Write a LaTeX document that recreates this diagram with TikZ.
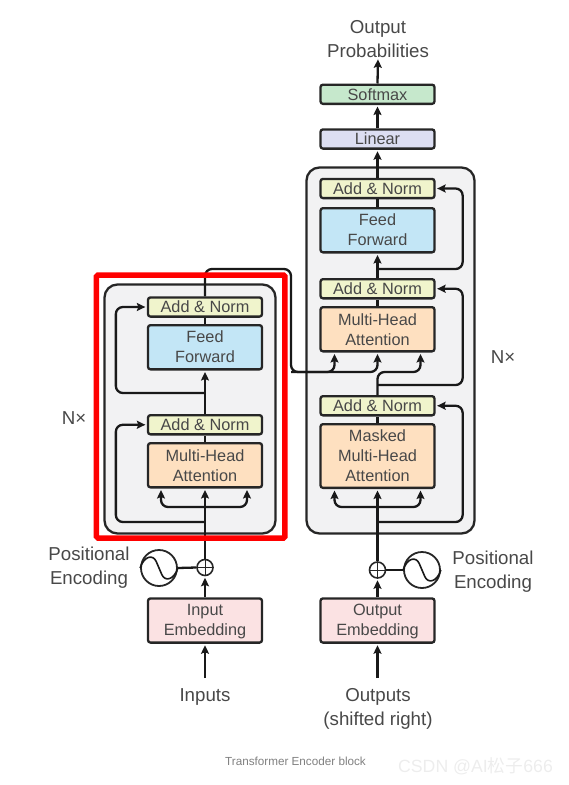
\documentclass[tikz,border=0pt]{standalone}
\usepackage{fontspec}
\setmainfont{Liberation Sans}
\newfontfamily\cjkfont{Noto Sans CJK SC}
\usetikzlibrary{arrows.meta, positioning, calc}
\definecolor{InkGray}{RGB}{72, 72, 72}
\definecolor{StackGray}{RGB}{242, 242, 243}
\definecolor{NormGreen}{RGB}{240, 244, 204}
\definecolor{FeedBlue}{RGB}{195, 230, 246}
\definecolor{AttnOrange}{RGB}{254, 224, 192}
\definecolor{EmbedPink}{RGB}{251, 226, 227}
\definecolor{SoftGreen}{RGB}{198, 232, 204}
\definecolor{LinearBlue}{RGB}{220, 222, 242}
\newcommand{\sinewave}[1]{\draw[wire, line width=1.6pt] (#1.west) .. controls +(4,-12) and +(-6,-14) .. (#1.center) .. controls +(6,14) and +(-4,12) .. (#1.east);}

\begin{document}
\begin{tikzpicture}[
    x=1pt, y=-1pt,
    wire/.style={line width=2.3pt, color=black!90, rounded corners=7pt},
    arrow/.style={wire, -{Stealth[length=8.5pt, width=8pt, inset=1.5pt]}, shorten >=1.5pt},
    stack/.style={rectangle, draw=black!85, line width=2.3pt, fill=StackGray, rounded corners=13pt},
    block/.style={rectangle, draw=black!85, line width=2.3pt, rounded corners=2.5pt, minimum width=114pt,
                  align=center, text=InkGray, inner sep=0pt, font=\fontsize{16.3}{20}\selectfont},
    norm/.style={block, fill=NormGreen, minimum height=19.2pt},
    feed/.style={block, fill=FeedBlue, minimum height=44.2pt, text depth=2pt},
    attn/.style={block, fill=AttnOrange, minimum height=44.2pt},
    embed/.style={block, fill=EmbedPink, minimum height=44.2pt, text depth=1.5pt},
    label/.style={align=center, text=InkGray, inner sep=0pt, font=\fontsize{18.7}{24}\selectfont},
    plusnode/.style={circle, draw=black!85, line width=1.6pt, fill=white, minimum size=16pt, inner sep=0pt,
                     path picture={\draw[line width=1pt] (path picture bounding box.north) -- (path picture bounding box.south)
                                   (path picture bounding box.west) -- (path picture bounding box.east);}},
    sinenode/.style={circle, draw=black!85, line width=1.8pt, minimum size=36pt, inner sep=0pt}
]
\useasboundingbox (0,0) rectangle (569,785);

\node[stack, minimum width=171pt, minimum height=249pt] (encstack) at (190,409) {};
\node[stack, minimum width=168pt, minimum height=366pt] (decstack) at (390.5,350.5) {};

\node[norm] (encadd2) at (205,307) {Add \& Norm};
\node[feed, below=6.25pt of encadd2] (encff) {Feed\\Forward};
\node[norm, below=43.5pt of encff] (encadd1) {Add \& Norm};
\node[attn, below=6.5pt of encadd1] (encmha) {Multi-Head\\Attention};
\node[embed] (inembed) at (205,620.5) {Input\\Embedding};
\node[plusnode] (encplus) at (205,567.5) {};
\node[sinenode] (encsine) at (159,568) {};
\node[label] (inputs) at (205,697) {Inputs};
\node[label] (encpos) at (89,568) {Positional\\Encoding};
\node[label] (encnx) at (74,418) {N×};

\node[norm] (decadd3) at (377.5,188.5) {Add \& Norm};
\node[feed, below=7.75pt of decadd3] (decff) {Feed\\Forward};
\node[norm, below=24.5pt of decff] (decadd2) {Add \& Norm};
\node[attn, below=6.5pt of decadd2] (decmha) {Multi-Head\\Attention};
\node[norm, below=42.5pt of decmha] (decadd1) {Add \& Norm};
\node[attn, below=6.5pt of decadd1, minimum height=63.7pt] (decmask) {Masked\\Multi-Head\\Attention};
\node[norm, above=28pt of decadd3, fill=LinearBlue] (linear) {Linear};
\node[norm, above=23.25pt of linear, fill=SoftGreen] (softmax) {Softmax};
\node[label] (outprob) at (378,39) {Output\\Probabilities};
\node[embed] (outembed) at (377.5,620.5) {Output\\Embedding};
\node[plusnode] (decplus) at (377.5,570) {};
\node[sinenode] (decsine) at (422,570) {};
\node[label] (outputs) at (378,709) {Outputs\\(shifted right)};
\node[label] (decpos) at (493,572) {Positional\\Encoding};
\node[label] (decnx) at (503,357) {N×};

\coordinate (inputstop) at (205,678);
\coordinate (outputstop) at (377.5,678);
\coordinate (enctap1) at (205,522);
\coordinate (encfork) at (205,507);
\coordinate (enctap2) at (205,393);
\coordinate (dectap1) at (377.5,522);
\coordinate (decfork) at (377.5,507);
\coordinate (dectap2) at (377.5,385);
\coordinate (dectap3) at (377.5,269);
\coordinate (memtop) at (291,269);
\coordinate (membot) at (291,372);
\coordinate (decbend) at (377.5,372);

\draw[arrow] (inputstop) -- (inembed.south);
\draw[arrow] (inembed.north) -- (encplus.south);
\draw[arrow] (encplus.north) -- (encmha.south);
\draw[wire] (encsine.east) -- (encplus.west);
\sinewave{encsine}
\draw[arrow] (encfork) -| ($(encmha.south)+(-44,0)$);
\draw[arrow] (encfork) -| ($(encmha.south)+(42,0)$);
\draw[arrow] (enctap1) -| ($(encadd1.west)+(-31,0)$) -- (encadd1.west);
\draw[wire] (encmha.north) -- (encadd1.south);
\draw[arrow] (encadd1.north) -- (encff.south);
\draw[arrow] (enctap2) -| ($(encadd2.west)+(-31,0)$) -- (encadd2.west);
\draw[wire] (encff.north) -- (encadd2.south);

\draw[arrow] (outputstop) -- (outembed.south);
\draw[arrow] (outembed.north) -- (decplus.south);
\draw[arrow] (decplus.north) -- (decmask.south);
\draw[wire] (decsine.west) -- (decplus.east);
\sinewave{decsine}
\draw[arrow] (decfork) -| ($(decmask.south)+(-43,0)$);
\draw[arrow] (decfork) -| ($(decmask.south)+(43,0)$);
\draw[arrow] (dectap1) -| ($(decadd1.east)+(27,0)$) -- (decadd1.east);
\draw[wire] (decmask.north) -- (decadd1.south);
\draw[arrow] (decadd1.north) -- (decbend) -| ($(decmha.south)+(43,0)$);
\draw[arrow] (dectap2) -| ($(decadd2.east)+(27,0)$) -- (decadd2.east);
\draw[wire] (decmha.north) -- (decadd2.south);
\draw[arrow] (encadd2.north) |- (memtop) -- (membot) -| ($(decmha.south)+(-43,0)$);
\draw[arrow] (membot) -| (decmha.south);
\draw[arrow] (decadd2.north) -- (decff.south);
\draw[arrow] (dectap3) -| ($(decadd3.east)+(27,0)$) -- (decadd3.east);
\draw[wire] (decff.north) -- (decadd3.south);
\draw[arrow] (decadd3.north) -- (linear.south);
\draw[arrow] (linear.north) -- (softmax.south);
\draw[arrow] (softmax.north) -- (outprob.south);

\node[rectangle, draw=red, line width=5.5pt, rounded corners=1.5pt, minimum width=188.5pt, minimum height=263pt] (focus) at (190.7,406.5) {};

\node[inner sep=0pt, text=black!50, font=\fontsize{11.7}{14}\selectfont] (caption) at (295.5,761) {Transformer Encoder block};
\node[inner sep=0pt, text=black!7, font=\fontsize{17.7}{20}\selectfont] (mark) at (475.5,766) {CSDN @AI{\cjkfont 松子}666};

\end{tikzpicture}
\end{document}
